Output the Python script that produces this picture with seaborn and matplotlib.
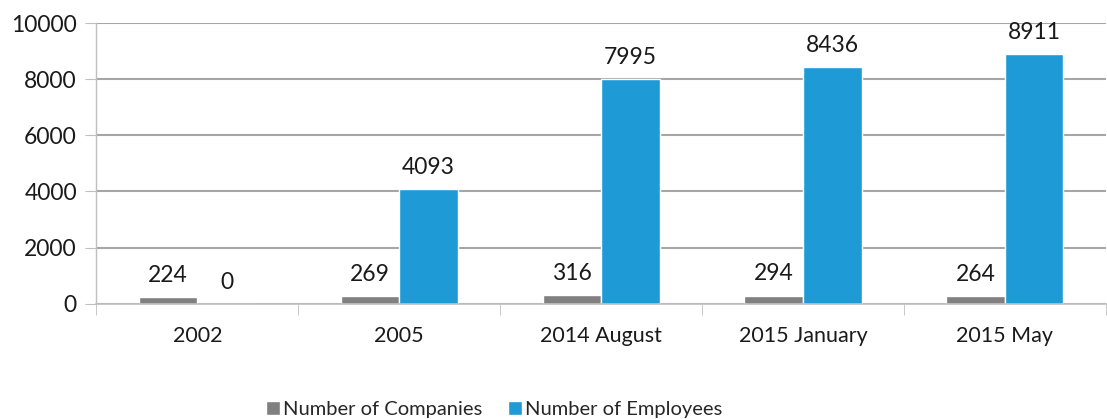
import pandas as pd
import matplotlib.pyplot as plt
import seaborn as sns

periods = ['2002', '2005', '2014 August', '2015 January', '2015 May']
companies = [224, 269, 316, 294, 264]
employees = [0, 4093, 7995, 8436, 8911]
series = ['Number of Companies', 'Number of Employees']
colors = ['#808080', '#1e9ad6']

df = pd.DataFrame({
    'period': periods * 2,
    'value': companies + employees,
    'series': [series[0]] * len(periods) + [series[1]] * len(periods),
})

sns.set_style('white')
plt.rcParams['font.family'] = ['Lato', 'DejaVu Sans']

fig, ax = plt.subplots(figsize=(11.07, 4.19), dpi=100)
fig.subplots_adjust(left=0.087, right=0.999, top=0.945, bottom=0.275)

sns.barplot(data=df, x='period', y='value', hue='series', palette=colors,
            width=0.58, saturation=1, ax=ax, order=periods, hue_order=series)

# value labels above bars
for cont in ax.containers:
    ax.bar_label(cont, labels=[f'{int(v)}' for v in cont.datavalues],
                 padding=8, fontsize=16.5, color='#1a1a1a')

ax.set_ylim(0, 10000)
ax.set_xlim(-0.5, len(periods) - 0.5)
ax.set_yticks(range(0, 10001, 2000))
ax.yaxis.grid(True, color='#a6a6a6', linewidth=1.5)
ax.set_axisbelow(True)
ax.set_xlabel('')
ax.set_ylabel('')

for side in ['top', 'right']:
    ax.spines[side].set_visible(False)
ax.spines['left'].set_color('#bfbfbf')
ax.spines['bottom'].set_color('#bfbfbf')
ax.spines['left'].set_linewidth(1)
ax.spines['bottom'].set_linewidth(1.2)

ax.tick_params(axis='y', length=8, color='#bfbfbf', labelsize=16.5, pad=6,
               labelcolor='#1a1a1a', left=True)
ax.tick_params(axis='x', length=0, labelsize=15.5, pad=16, labelcolor='#1a1a1a')
# category boundary ticks
ax.set_xticks([i - 0.5 for i in range(len(periods) + 1)], minor=True)
ax.tick_params(axis='x', which='minor', length=8, color='#bfbfbf', bottom=True)

leg = ax.legend(loc='lower center', bbox_to_anchor=(0.394, -0.45), ncol=2,
                frameon=False, fontsize=14.5, handlelength=0.7, handleheight=0.7,
                handletextpad=0.15, columnspacing=1.3, borderpad=0.1)

fig.savefig('out.png', dpi=100)
